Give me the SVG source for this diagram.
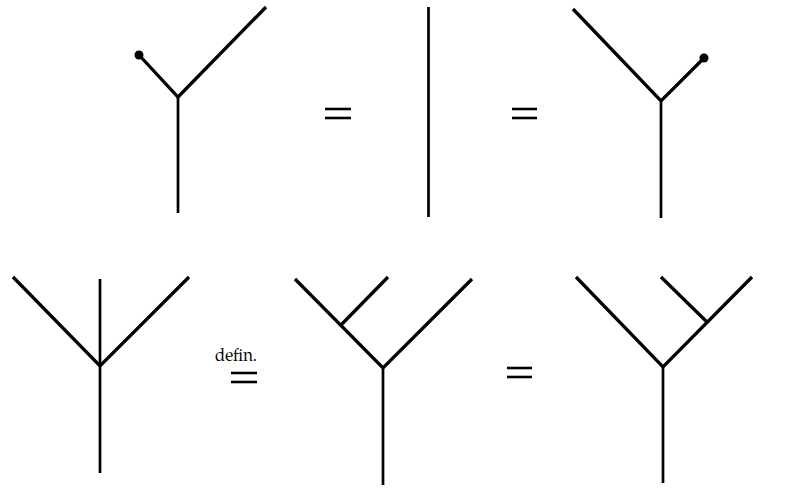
<svg xmlns="http://www.w3.org/2000/svg" width="809" height="488" viewBox="0 0 809 488">
<style>
.w{fill:none;stroke:#000;stroke-width:3.3;stroke-linecap:butt;stroke-linejoin:miter}
.v{fill:none;stroke:#000;stroke-width:2.7}
.eq{stroke:#000;stroke-width:2.6}
.dot{fill:#000}
.t{font-family:"TeX Gyre Pagella","Liberation Serif",serif;font-size:18px;fill:#000}
</style>
<rect width="809" height="488" fill="#fff"/>
<g id="connectors">
<g id="unit-left">
<polyline class="w" points="139,55 178,97 266,7"/>
<line class="v" x1="178" y1="96" x2="178" y2="213"/>
<circle class="dot" cx="139" cy="55" r="4.5"/>
</g>
<g id="eq1"><line class="eq" x1="325" y1="109" x2="351" y2="109"/><line class="eq" x1="325" y1="118" x2="351" y2="118"/></g>
<g id="identity"><line class="v" x1="428.5" y1="7" x2="428.5" y2="217"/></g>
<g id="eq2"><line class="eq" x1="512" y1="109" x2="537" y2="109"/><line class="eq" x1="512" y1="118" x2="537" y2="118"/></g>
<g id="unit-right">
<polyline class="w" points="573,9 661,101 704,58"/>
<line class="v" x1="661" y1="100" x2="661" y2="218"/>
<circle class="dot" cx="704" cy="58" r="4.5"/>
</g>
<g id="ternary">
<polyline class="w" points="13,277 100,366 189,277"/>
<line class="v" x1="100" y1="279" x2="100" y2="473"/>
</g>
<g id="eq3">
<text class="t" x="215" y="361" textLength="42" lengthAdjust="spacingAndGlyphs">defin.</text>
<line class="eq" x1="231" y1="373" x2="257" y2="373"/><line class="eq" x1="231" y1="382" x2="257" y2="382"/>
</g>
<g id="left-assoc">
<polyline class="w" points="295,279 383,368 472,279"/>
<line class="w" x1="341" y1="325" x2="388" y2="277"/>
<line class="v" x1="383" y1="367" x2="383" y2="485"/>
</g>
<g id="eq4"><line class="eq" x1="507" y1="368" x2="532" y2="368"/><line class="eq" x1="507" y1="377" x2="532" y2="377"/></g>
<g id="right-assoc">
<polyline class="w" points="576,277 663,367 752,277"/>
<line class="w" x1="707" y1="322" x2="661" y2="277"/>
<line class="v" x1="663" y1="366" x2="663" y2="483"/>
</g>
</g>
</svg>
